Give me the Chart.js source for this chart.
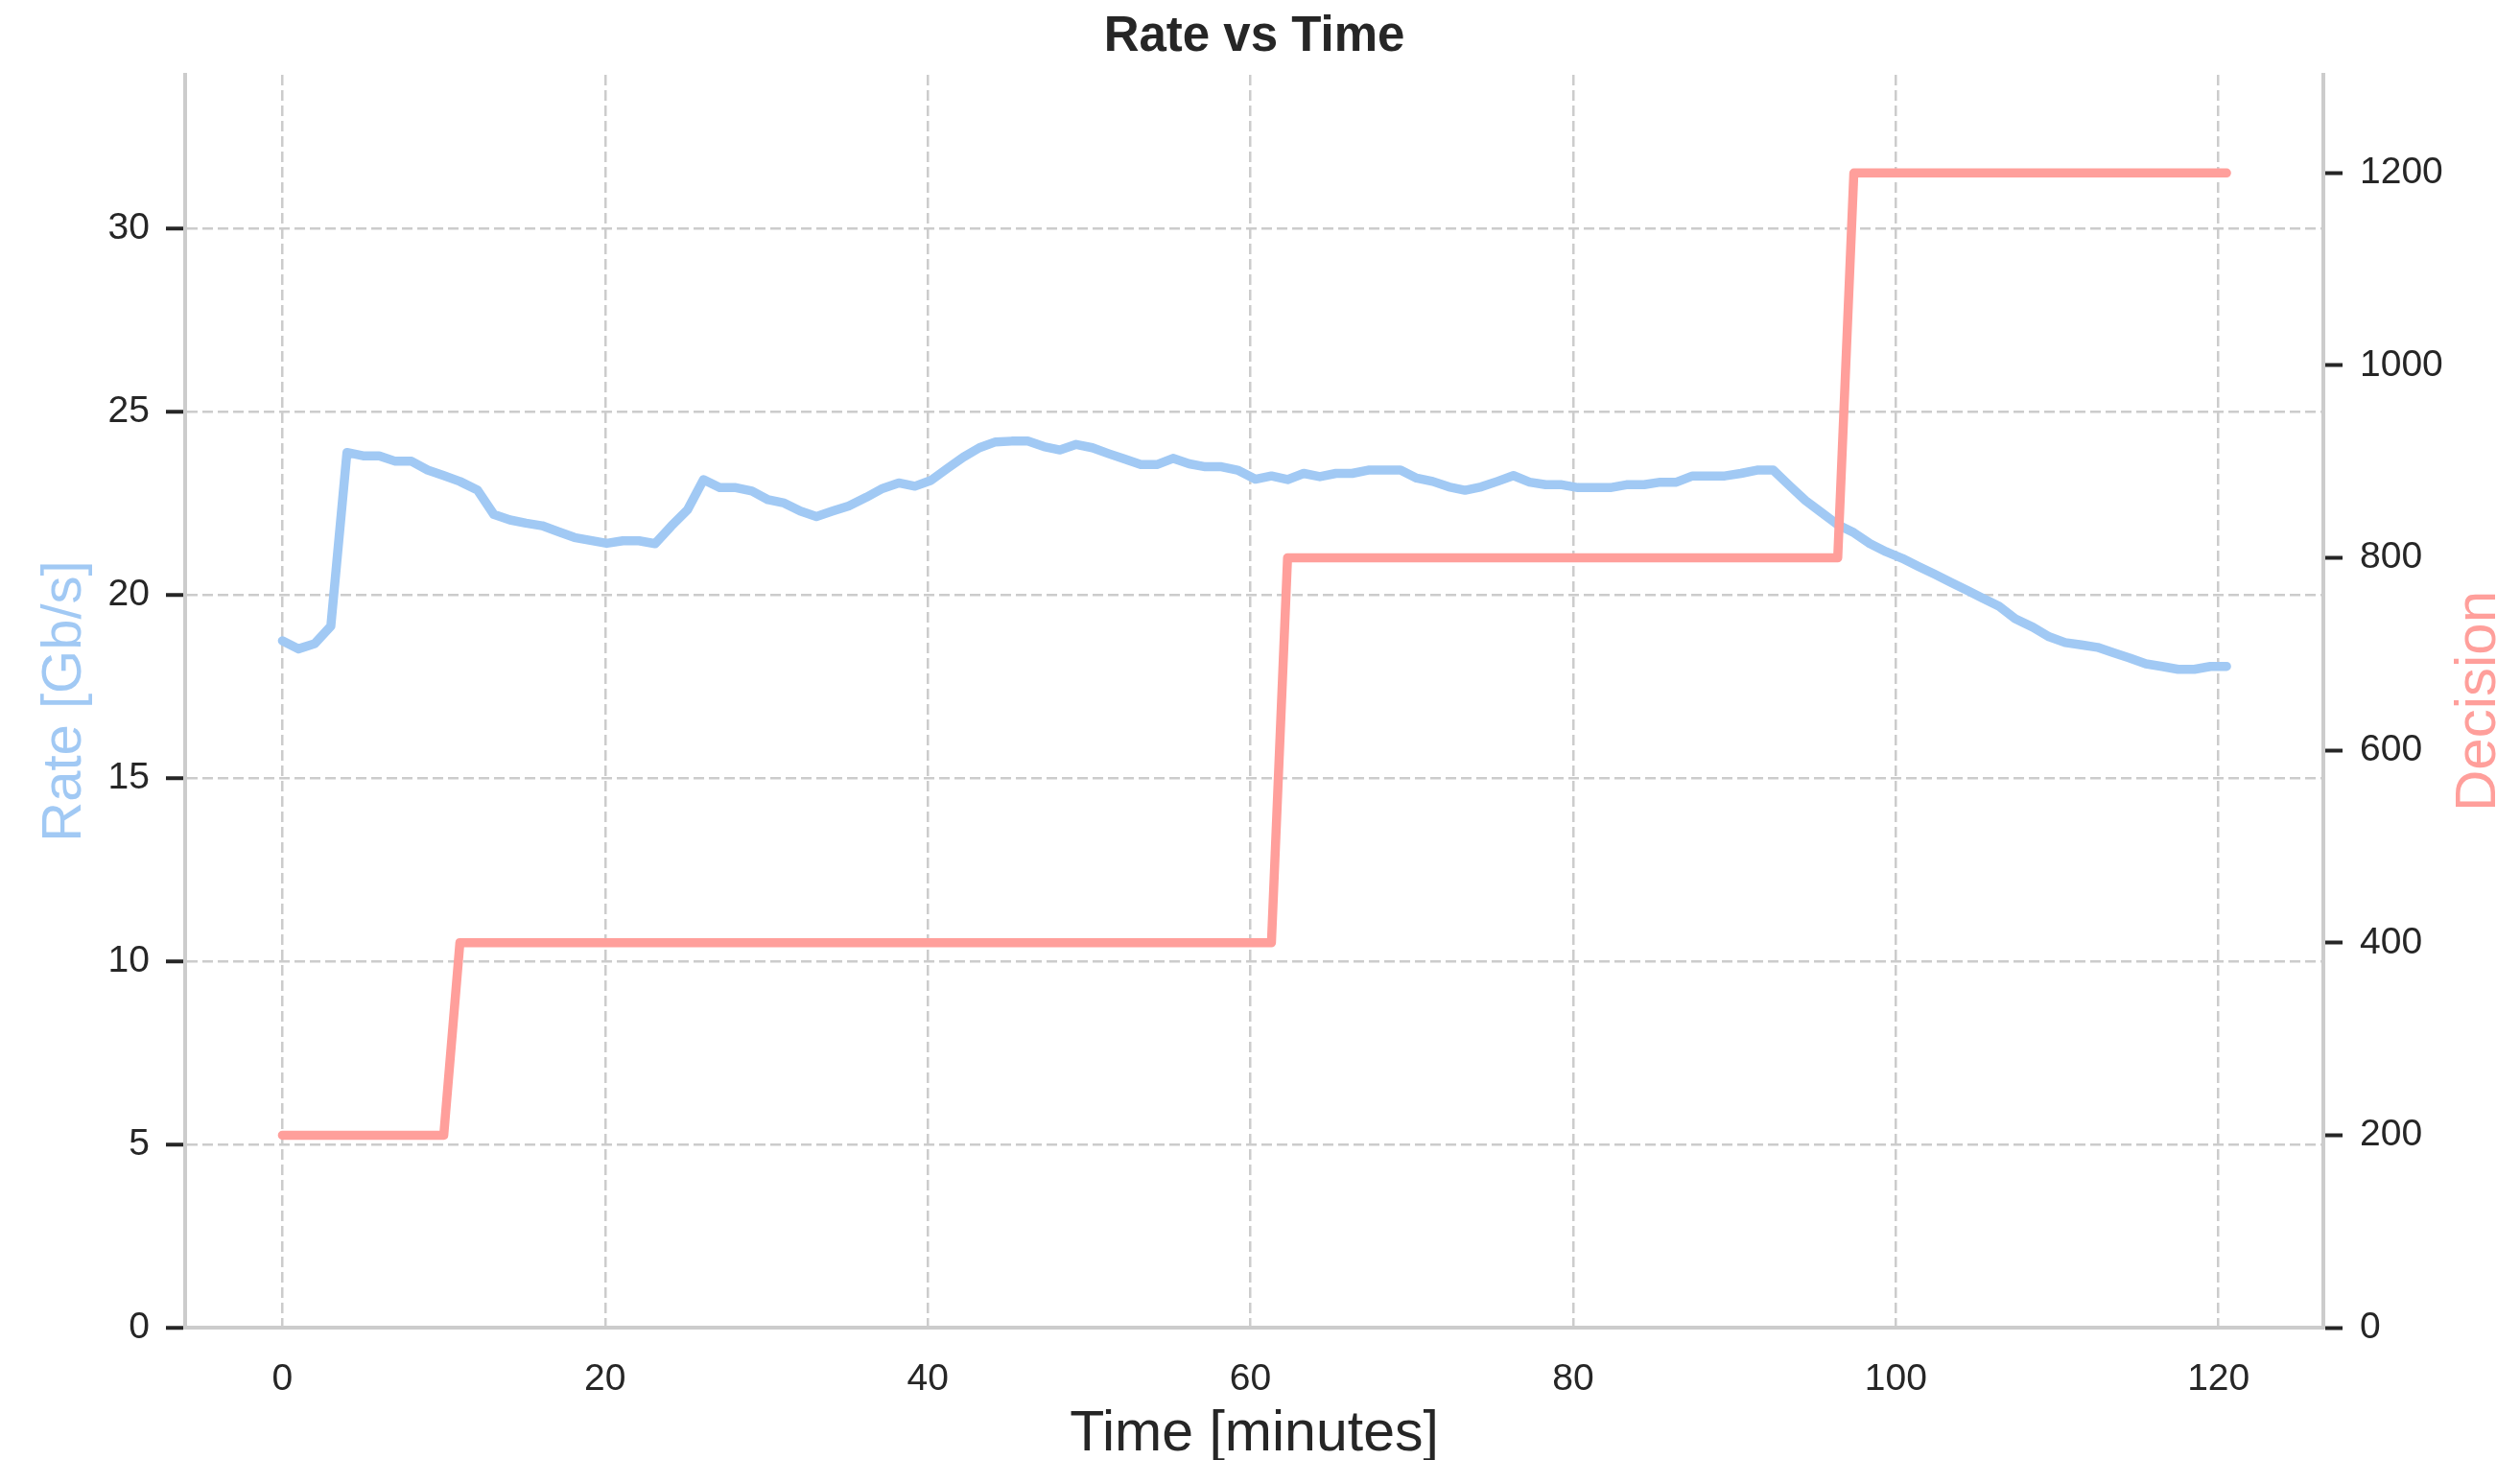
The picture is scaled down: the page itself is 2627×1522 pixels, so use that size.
<!DOCTYPE html>
<html>
<head>
<meta charset="utf-8">
<title>Rate vs Time</title>
<script src="https://cdn.jsdelivr.net/npm/chart.js@4.4.1/dist/chart.umd.min.js"></script>
<style>
    html, body { margin: 0; padding: 0; background: #ffffff; }
    #wrap { width: 2627px; height: 1522px; }
</style>
</head>
<body>
<div id="wrap"><canvas id="rateChart" width="2627" height="1522"></canvas></div>
<script>
// sample times in minutes (one sample roughly every minute)
const timeMinutes = [
    0, 1, 2, 3, 4, 5, 6, 7, 8, 9, 10, 11,
    12.1, 13.1, 14.1, 15.1, 16.1, 17.1, 18.1, 19.1, 20.1, 21.1, 22.1, 23.1,
    24.1, 25.1, 26.1, 27.1, 28.1, 29.1, 30.1, 31.1, 32.1, 33.1, 34.1, 35.1,
    36.2, 37.2, 38.2, 39.2, 40.2, 41.2, 42.2, 43.2, 44.2, 45.2, 46.2, 47.2,
    48.2, 49.2, 50.2, 51.2, 52.2, 53.2, 54.2, 55.2, 56.2, 57.2, 58.2, 59.2,
    60.3, 61.3, 62.3, 63.3, 64.3, 65.3, 66.3, 67.3, 68.3, 69.3, 70.3, 71.3,
    72.3, 73.3, 74.3, 75.3, 76.3, 77.3, 78.3, 79.3, 80.3, 81.3, 82.3, 83.3,
    84.4, 85.4, 86.4, 87.4, 88.4, 89.4, 90.4, 91.4, 92.4, 93.4, 94.4, 95.4,
    96.4, 97.4, 98.4, 99.4, 100.4, 101.4, 102.4, 103.4, 104.4, 105.4, 106.4, 107.4,
    108.5, 109.5, 110.5, 111.5, 112.5, 113.5, 114.5, 115.5, 116.5, 117.5, 118.5, 119.5,
    120.5
];

const rateGbps = [
    18.75, 18.53, 18.67, 19.15, 23.89, 23.80, 23.80, 23.65, 23.65, 23.41, 23.26, 23.10,
    22.86, 22.20, 22.05, 21.96, 21.89, 21.73, 21.57, 21.49, 21.41, 21.48, 21.48, 21.40,
    21.88, 22.32, 23.15, 22.93, 22.93, 22.84, 22.60, 22.51, 22.29, 22.14, 22.29, 22.43,
    22.67, 22.91, 23.06, 22.97, 23.13, 23.45, 23.76, 24.02, 24.18, 24.20, 24.20, 24.05,
    23.96, 24.11, 24.02, 23.86, 23.71, 23.56, 23.56, 23.73, 23.58, 23.50, 23.50, 23.41,
    23.16, 23.25, 23.15, 23.32, 23.23, 23.32, 23.32, 23.41, 23.41, 23.41, 23.19, 23.10,
    22.95, 22.86, 22.95, 23.10, 23.26, 23.08, 23.01, 23.01, 22.93, 22.93, 22.93, 23.01,
    23.01, 23.08, 23.08, 23.25, 23.25, 23.25, 23.32, 23.41, 23.41, 22.99, 22.58, 22.25,
    21.92, 21.70, 21.40, 21.18, 21.00, 20.78, 20.57, 20.35, 20.13, 19.91, 19.69, 19.35,
    19.12, 18.86, 18.70, 18.64, 18.57, 18.42, 18.28, 18.12, 18.05, 17.97, 17.97, 18.05,
    18.05
];

const decision = [
    200, 200, 200, 200, 200, 200, 200, 200, 200, 200, 200, 400,
    400, 400, 400, 400, 400, 400, 400, 400, 400, 400, 400, 400,
    400, 400, 400, 400, 400, 400, 400, 400, 400, 400, 400, 400,
    400, 400, 400, 400, 400, 400, 400, 400, 400, 400, 400, 400,
    400, 400, 400, 400, 400, 400, 400, 400, 400, 400, 400, 400,
    400, 400, 800, 800, 800, 800, 800, 800, 800, 800, 800, 800,
    800, 800, 800, 800, 800, 800, 800, 800, 800, 800, 800, 800,
    800, 800, 800, 800, 800, 800, 800, 800, 800, 800, 800, 800,
    800, 1200, 1200, 1200, 1200, 1200, 1200, 1200, 1200, 1200, 1200, 1200,
    1200, 1200, 1200, 1200, 1200, 1200, 1200, 1200, 1200, 1200, 1200, 1200,
    1200
];

const xRange = [-6.03, 126.5];
const rateRange = [0, 34.2];
const decisionRange = [0, 1302];

const RATE_COLOR = "#a1c9f4";
const DECISION_COLOR = "#ff9f9b";
const TEXT_COLOR = "#262626";
const GRID_COLOR = "#cccccc";

Chart.defaults.font.family = "'Liberation Sans', Arial, sans-serif";
Chart.defaults.color = TEXT_COLOR;

function toPoints(values) {
    return timeMinutes.map((t, i) => ({ x: t, y: values[i] }));
}

// matplotlib puts the right ylabel bottom-to-top, chart.js would flip it
const decisionTitle = {
    id: "decisionTitle",
    afterDraw(chart) {
        const ctx = chart.ctx;
        const area = chart.chartArea;
        const axis = chart.scales.y2;
        ctx.save();
        ctx.translate(axis.right - 43, (area.top + area.bottom) / 2);
        ctx.rotate(-Math.PI / 2);
        ctx.font = "60px 'Liberation Sans', Arial, sans-serif";
        ctx.fillStyle = DECISION_COLOR;
        ctx.textAlign = "center";
        ctx.textBaseline = "middle";
        ctx.fillText("Decision", 0, 0);
        ctx.restore();
    }
};

const tickFont = { size: 39 };

new Chart(document.getElementById("rateChart").getContext("2d"), {
    type: "line",
    data: {
        datasets: [
            {
                label: "Decision",
                data: toPoints(decision),
                yAxisID: "y2",
                borderColor: DECISION_COLOR,
                borderWidth: 9.5
            },
            {
                label: "Rate",
                data: toPoints(rateGbps),
                yAxisID: "y",
                borderColor: RATE_COLOR,
                borderWidth: 9.5
            }
        ]
    },
    options: {
        responsive: false,
        animation: false,
        layout: { padding: 0 },
        elements: {
            point: { radius: 0 },
            line: { tension: 0, borderCapStyle: "round", borderJoinStyle: "round", fill: false }
        },
        plugins: {
            legend: { display: false },
            tooltip: { enabled: false },
            title: {
                display: true,
                text: "Rate vs Time",
                color: TEXT_COLOR,
                fullSize: false,
                font: { size: 51, weight: "bold", lineHeight: 1.2 },
                padding: { top: 8.4, bottom: 8.4 }
            }
        },
        scales: {
            x: {
                type: "linear",
                min: xRange[0],
                max: xRange[1],
                ticks: {
                    stepSize: 20,
                    includeBounds: false,
                    padding: 31,
                    font: tickFont,
                    color: TEXT_COLOR,
                    callback: value => String(value)
                },
                grid: { color: GRID_COLOR, lineWidth: 2.5, drawTicks: false },
                border: { color: GRID_COLOR, width: 4, dash: [11, 5] },
                title: {
                    display: true,
                    text: "Time [minutes]",
                    color: TEXT_COLOR,
                    font: { size: 59, lineHeight: 0.9 },
                    padding: { top: 0, bottom: 0 }
                },
                afterFit: scale => { scale.height = 138; }
            },
            y: {
                position: "left",
                min: rateRange[0],
                max: rateRange[1],
                ticks: {
                    stepSize: 5,
                    includeBounds: false,
                    padding: 17,
                    font: tickFont,
                    color: TEXT_COLOR,
                    callback: value => String(value)
                },
                grid: { color: GRID_COLOR, lineWidth: 2.5, tickColor: TEXT_COLOR, tickWidth: 4, tickLength: 20 },
                border: { color: GRID_COLOR, width: 4, dash: [11, 5] },
                title: {
                    display: true,
                    text: "Rate [Gb/s]",
                    color: RATE_COLOR,
                    font: { size: 58, lineHeight: 1.2 },
                    padding: { top: 33, bottom: 0 }
                },
                afterFit: scale => { scale.width = 193; }
            },
            y2: {
                position: "right",
                min: decisionRange[0],
                max: decisionRange[1],
                ticks: {
                    stepSize: 200,
                    includeBounds: false,
                    padding: 18,
                    font: tickFont,
                    color: TEXT_COLOR,
                    callback: value => String(value)
                },
                grid: { drawOnChartArea: false, color: GRID_COLOR, tickColor: TEXT_COLOR, tickWidth: 4, tickLength: 20 },
                border: { color: GRID_COLOR, width: 4 },
                afterFit: scale => { scale.width = 205; }
            }
        }
    },
    plugins: [decisionTitle]
});
</script>
</body>
</html>
